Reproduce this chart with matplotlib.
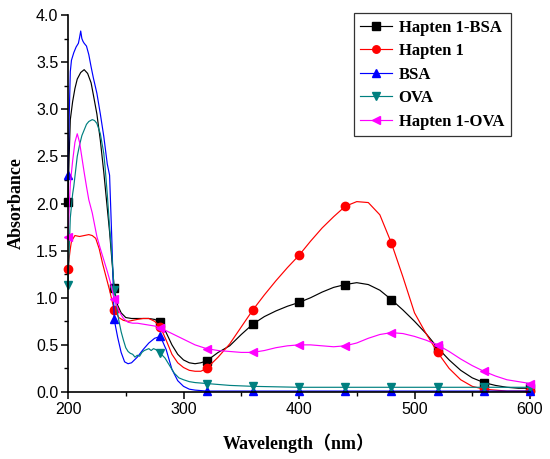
import matplotlib
matplotlib.use("Agg")
import matplotlib.pyplot as plt
from matplotlib.ticker import MultipleLocator

# ---------------- data ----------------
marker_wl = [200, 240, 280, 320, 360, 400, 440, 480, 520, 560, 600]

bsa_conj_wl = [200, 201, 202, 204, 206, 208, 211, 214, 217, 220, 222, 225, 228, 231, 234, 236, 238,
               240, 243, 246, 250, 255, 260, 265, 270, 275, 280, 285, 290, 295, 300, 305, 310, 315,
               320, 330, 340, 350, 360, 370, 380, 390, 400, 410, 420, 430, 440, 450, 460, 470,
               480, 490, 500, 510, 520, 530, 540, 550, 560, 570, 580, 590, 600]
bsa_conj_val = [2.02, 2.50, 2.89, 3.08, 3.22, 3.32, 3.39, 3.42, 3.38, 3.28, 3.15, 2.95, 2.67, 2.33, 1.95, 1.70, 1.40,
                1.10, 0.92, 0.84, 0.79, 0.78, 0.78, 0.78, 0.78, 0.77, 0.74, 0.63, 0.50, 0.40, 0.34, 0.31, 0.30, 0.31,
                0.33, 0.42, 0.49, 0.61, 0.72, 0.80, 0.86, 0.91, 0.95, 1.00, 1.06, 1.11, 1.14, 1.16, 1.14, 1.08,
                0.98, 0.87, 0.75, 0.62, 0.47, 0.34, 0.23, 0.15, 0.10, 0.07, 0.05, 0.04, 0.04]

hapten_wl = [200, 201, 202, 203, 206, 210, 214, 218, 221, 224, 227, 230, 233, 236, 240, 244, 248, 252,
             256, 260, 265, 270, 275, 280, 285, 290, 295, 300, 305, 310, 315, 320, 330, 340, 350, 360,
             370, 380, 390, 400, 410, 420, 430, 440, 450, 460, 470, 480, 490, 500, 510, 520, 530, 540,
             550, 560, 570, 580, 590, 600]
hapten_val = [1.30, 1.42, 1.52, 1.60, 1.66, 1.65, 1.66, 1.67, 1.66, 1.63, 1.52, 1.36, 1.22, 1.08, 0.87, 0.79, 0.76, 0.75,
              0.76, 0.77, 0.78, 0.78, 0.75, 0.69, 0.55, 0.40, 0.31, 0.26, 0.23, 0.22, 0.22, 0.25, 0.37, 0.51, 0.69, 0.87,
              1.03, 1.18, 1.32, 1.45, 1.60, 1.74, 1.86, 1.97, 2.02, 2.01, 1.88, 1.58, 1.22, 0.84, 0.62, 0.42, 0.25, 0.13,
              0.06, 0.03, 0.02, 0.01, 0.01, 0.01]

bsa_wl = [200, 201, 202, 203, 205, 207, 209, 210, 211, 212, 213, 214, 216, 218, 220, 222, 225, 228, 231,
          234, 236, 238, 240, 243, 246, 249, 252, 255, 260, 265, 270, 275, 280, 285, 290, 295, 300, 305,
          310, 320, 360, 400, 440, 480, 520, 560, 600]
bsa_val = [2.30, 2.90, 3.40, 3.52, 3.60, 3.66, 3.70, 3.76, 3.83, 3.75, 3.72, 3.70, 3.67, 3.58, 3.45, 3.33, 3.17, 2.95, 2.71,
           2.42, 2.30, 1.60, 0.77, 0.58, 0.42, 0.32, 0.30, 0.31, 0.37, 0.45, 0.52, 0.57, 0.59, 0.45, 0.24, 0.12, 0.06, 0.03,
           0.02, 0.01, 0.01, 0.01, 0.01, 0.01, 0.01, 0.01, 0.01]

ova_wl = [200, 201, 202, 204, 205, 208, 210, 212, 214, 216, 218, 221, 223, 225, 228, 231, 232, 234, 236,
          238, 240, 242, 244, 246, 248, 250, 252, 254, 256, 258, 260, 262, 264, 266, 268, 270, 272, 274,
          276, 278, 280, 284, 288, 292, 296, 300, 305, 310, 320, 340, 360, 400, 440, 480, 520, 560, 600]
ova_val = [1.14, 1.50, 1.85, 2.10, 2.18, 2.50, 2.62, 2.72, 2.78, 2.84, 2.87, 2.89, 2.88, 2.85, 2.74, 2.53, 2.40, 2.10, 1.75,
           1.45, 1.08, 0.90, 0.76, 0.64, 0.55, 0.47, 0.43, 0.41, 0.40, 0.37, 0.39, 0.38, 0.42, 0.44, 0.45, 0.46, 0.44, 0.46,
           0.45, 0.43, 0.41, 0.36, 0.28, 0.20, 0.15, 0.13, 0.11, 0.10, 0.09, 0.07, 0.06, 0.05, 0.05, 0.05, 0.05, 0.05, 0.05]

ova_conj_wl = [200, 201, 202, 204, 206, 208, 210, 212, 214, 216, 218, 221, 225, 228, 231, 234, 237, 240,
               244, 248, 252, 256, 260, 265, 270, 275, 280, 290, 300, 310, 320, 330, 340, 350, 360, 370,
               380, 390, 400, 410, 420, 430, 440, 450, 460, 470, 480, 490, 500, 510, 520, 530, 540, 550,
               560, 570, 580, 590, 600]
ova_conj_val = [1.64, 1.95, 2.21, 2.45, 2.65, 2.74, 2.65, 2.49, 2.33, 2.18, 2.04, 1.90, 1.65, 1.52, 1.40, 1.28, 1.15, 0.99,
                0.86, 0.78, 0.74, 0.73, 0.73, 0.72, 0.71, 0.70, 0.68, 0.62, 0.56, 0.50, 0.46, 0.44, 0.43, 0.42, 0.42, 0.44,
                0.47, 0.49, 0.50, 0.50, 0.49, 0.48, 0.49, 0.52, 0.57, 0.61, 0.63, 0.62, 0.59, 0.55, 0.50, 0.43, 0.35, 0.28,
                0.22, 0.17, 0.13, 0.11, 0.09]

series = [
    ("Hapten 1-BSA", bsa_conj_wl, bsa_conj_val, "#000000", "s"),
    ("Hapten 1", hapten_wl, hapten_val, "#FF0000", "o"),
    ("BSA", bsa_wl, bsa_val, "#0000FF", "^"),
    ("OVA", ova_wl, ova_val, "#008080", "v"),
    ("Hapten 1-OVA", ova_conj_wl, ova_conj_val, "#FF00FF", "<"),
]

# ---------------- figure ----------------
fig = plt.figure(figsize=(5.5, 4.59), dpi=100)
ax = fig.add_axes([68 / 550, 1 - 392 / 459, 462 / 550, 377 / 459])

for name, wl, val, col, mk in series:
    idx = [i for i, w in enumerate(wl) if w in marker_wl]
    ax.plot(wl, val, color=col, lw=0.85, marker=mk, markersize=6,
            markevery=idx, label=name, clip_on=False)

ax.set_xlim(200, 600)
ax.set_ylim(0, 4.0)
ax.xaxis.set_major_locator(MultipleLocator(100))
ax.xaxis.set_minor_locator(MultipleLocator(50))
ax.yaxis.set_major_locator(MultipleLocator(0.5))
ax.yaxis.set_minor_locator(MultipleLocator(0.25))
ax.yaxis.set_major_formatter(matplotlib.ticker.FormatStrFormatter("%.1f"))

for s in ["top", "right"]:
    ax.spines[s].set_visible(False)
for s in ["left", "bottom"]:
    ax.spines[s].set_linewidth(1.2)

ax.tick_params(which="major", direction="out", length=5, width=1.1,
               labelsize=11.5, pad=2)
ax.tick_params(which="minor", direction="out", length=3, width=1.0)
for lab in ax.get_xticklabels() + ax.get_yticklabels():
    lab.set_family("Liberation Sans")

ax.set_xlabel("Wavelength（nm）", family=["Liberation Serif", "Noto Sans CJK SC"],
              fontweight="bold", fontsize=13, labelpad=12)
ax.set_ylabel("Absorbance", family="Liberation Serif", fontweight="bold",
              fontsize=13, labelpad=8)

leg = ax.legend(loc="upper right", bbox_to_anchor=(0.958, 1.005),
                prop={"family": "Liberation Serif", "weight": "bold", "size": 12},
                frameon=True, fancybox=False, edgecolor="black",
                handlelength=1.9, handletextpad=0.4, borderpad=0.4,
                labelspacing=0.45, borderaxespad=0, markerscale=0.9)
leg.get_frame().set_linewidth(0.9)

fig.savefig("out.png", dpi=100)
